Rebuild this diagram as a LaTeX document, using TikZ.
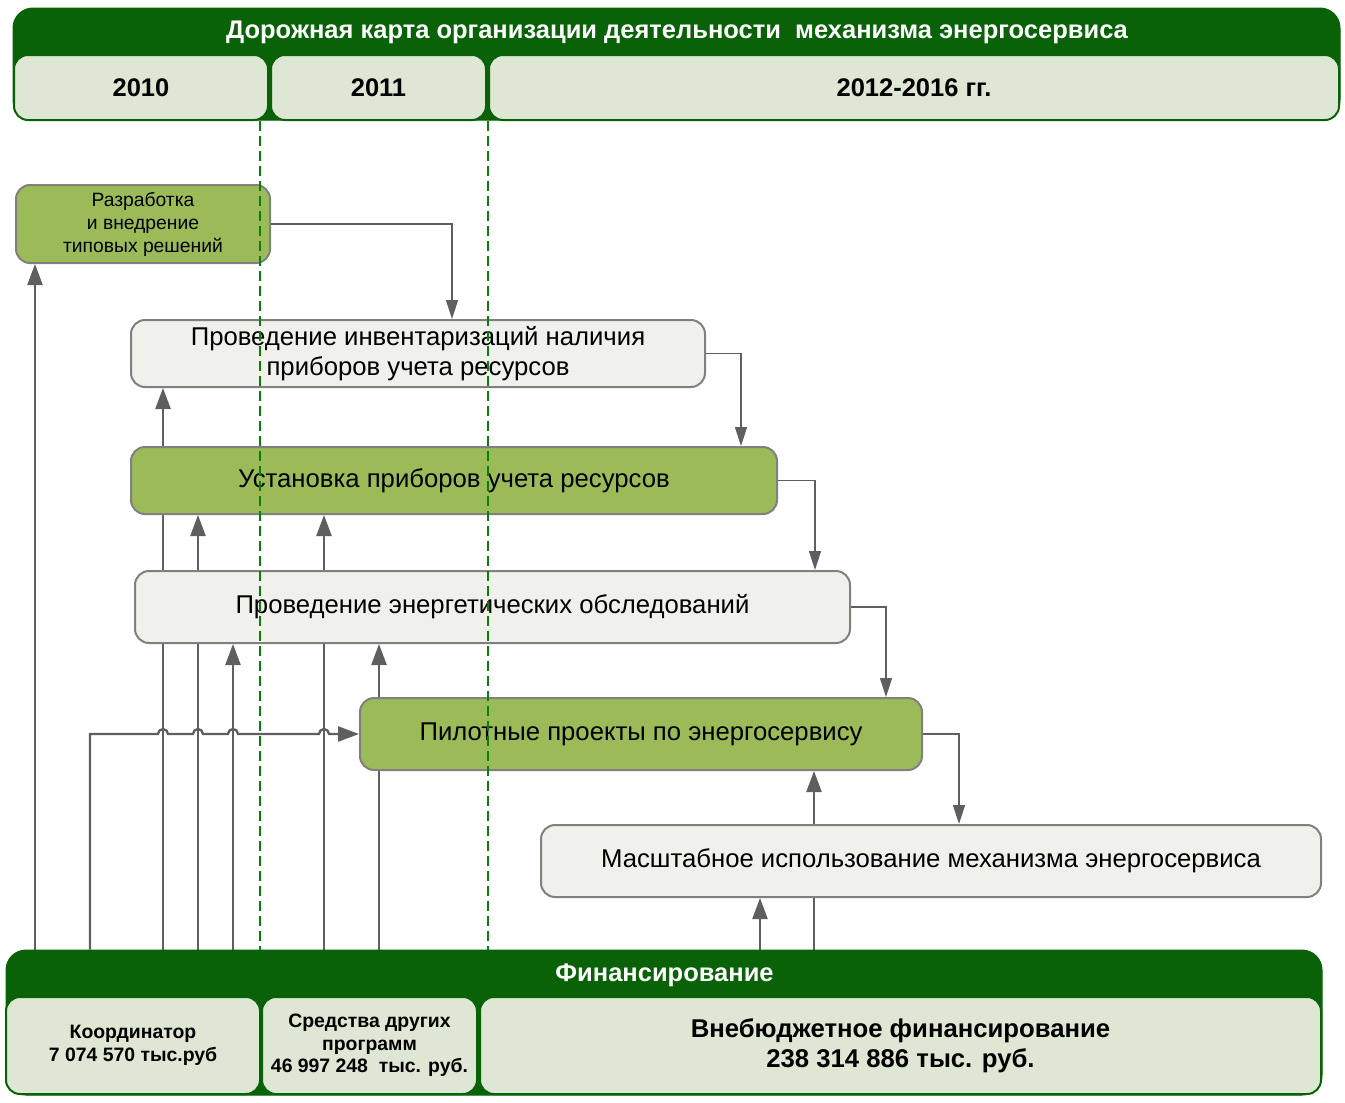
\documentclass[tikz,border=0pt]{standalone}
\usepackage{fontspec}
\setmainfont{Liberation Sans}
\usetikzlibrary{arrows.meta,backgrounds,calc}
\definecolor{dkg}{RGB}{10,98,8}
\definecolor{cellfill}{RGB}{221,231,211}
\definecolor{gfill}{RGB}{155,187,89}
\definecolor{lfill}{RGB}{239,241,234}
\definecolor{bgray}{RGB}{128,128,128}
\definecolor{cgray}{RGB}{95,95,95}
\definecolor{dashg}{RGB}{10,128,10}
\newcommand{\fs}[2]{\fontsize{#1}{#2}\selectfont}
\begin{document}
\begin{tikzpicture}[x=1pt,y=-1pt,
  panel/.style={fill=dkg, draw=dkg, line width=1pt, rounded corners=20pt},
  cell/.style={fill=cellfill, draw=dkg, line width=2pt, rounded corners=14pt, inner sep=0pt, align=center},
  gbox/.style={fill=gfill, draw=bgray, line width=2pt, rounded corners=14pt, inner sep=0pt, align=center},
  lbox/.style={fill=lfill, draw=bgray, line width=2pt, rounded corners=14pt, inner sep=0pt, align=center},
  upconn/.style={draw=cgray, line width=2.3pt, -{Triangle[length=21pt,width=15pt]}},
  rconn/.style={draw=cgray, line width=1.5pt, -{Triangle[length=19pt,width=12pt]}},
  yrdash/.style={draw=dashg, line width=1.8pt, dash pattern=on 10pt off 5pt},
  ttl/.style={text=white, font=\bfseries\fs{25.5}{30}, inner sep=0pt}
]
\useasboundingbox (0,0) rectangle (1345,1103);
\begin{scope}[on background layer]
\fill[white] (0,0) rectangle (1345,1103);
\end{scope}

% header
\node[panel, minimum width=1327pt, minimum height=112pt, inner sep=0pt] (hdr) at (676.5,64) {};
\node[ttl] (title) at (677,32) {Дорожная карта организации деятельности\ \ механизма энергосервиса};
\node[cell, font=\bfseries\fs{25.5}{30}, minimum width=254pt, minimum height=65pt] (y1) at (141,87.5) {2010};
\node[cell, font=\bfseries\fs{25.5}{30}, minimum width=215pt, minimum height=65pt] (y2) at (378.5,87.5) {2011};
\node[cell, font=\bfseries\fs{25.5}{30}, minimum width=850pt, minimum height=65pt] (y3) at (914,87.5) {2012-2016 гг.};

% financing
\node[panel, minimum width=1316pt, minimum height=145pt, inner sep=0pt] (fin) at (664,1022.5) {};
\node[ttl] (fintitle) at (664.5,975) {Финансирование};
\node[cell, font=\bfseries\fs{19.4}{23}, minimum width=254pt, minimum height=97pt] (f1) at (133,1045.5) {Координатор\\7 074 570 тыс.руб};
\node[cell, font=\bfseries\fs{19.4}{22.5}, minimum width=215pt, minimum height=97pt] (f2) at (369.5,1045.5) {Средства других\\программ\\46 997 248\ \ тыс. руб.};
\node[cell, font=\bfseries\fs{25.7}{30}, minimum width=841pt, minimum height=97pt] (f3) at (900.5,1045.5) {Внебюджетное финансирование\\238 314 886 тыс. руб.};

% process boxes
\node[gbox, font=\fs{19.3}{23}, minimum width=254pt, minimum height=78pt] (dev) at (143,224) {Разработка\\и внедрение\\типовых решений};
\node[lbox, font=\fs{25.7}{30}, minimum width=574pt, minimum height=67pt] (inv) at (418,353.5) {Проведение инвентаризаций наличия\\приборов учета ресурсов};
\node[gbox, font=\fs{25.7}{30}, minimum width=646pt, minimum height=67pt] (ust) at (454,480.5) {Установка приборов учета ресурсов};
\node[lbox, font=\fs{25.7}{30}, minimum width=715pt, minimum height=72pt] (eng) at (492.5,607) {Проведение энергетических обследований};
\node[gbox, font=\fs{25.7}{30}, minimum width=562pt, minimum height=72pt] (pil) at (641,734) {Пилотные проекты по энергосервису};
\node[lbox, font=\fs{25.7}{30}, minimum width=780pt, minimum height=72pt] (mas) at (931,861) {Масштабное использование механизма энергосервиса};

% x positions of vertical connectors
\coordinate (a1) at (35,0);
\coordinate (a2) at (90,0);
\coordinate (a3) at (163,0);
\coordinate (a4) at (198,0);
\coordinate (a5) at (233,0);
\coordinate (a6) at (324,0);
\coordinate (a7) at (379,0);
\coordinate (a8) at (760,0);
\coordinate (a9) at (814,0);
\coordinate (r1) at (452,0);
\coordinate (r2) at (741,0);
\coordinate (r3) at (815,0);
\coordinate (r4) at (886,0);
\coordinate (r5) at (959,0);
\coordinate (d1) at (260,0);
\coordinate (d2) at (488,0);

\begin{scope}[on background layer]
\draw[upconn] (a1 |- fin.north) -- (a1 |- dev.south);
\draw[upconn] (a2 |- fin.north) -- (a2 |- pil.west)
  -- ($(a3 |- pil.west)+(-5,0)$) arc[start angle=180,end angle=0,radius=5pt]
  -- ($(a4 |- pil.west)+(-5,0)$) arc[start angle=180,end angle=0,radius=5pt]
  -- ($(a5 |- pil.west)+(-5,0)$) arc[start angle=180,end angle=0,radius=5pt]
  -- ($(a6 |- pil.west)+(-5,0)$) arc[start angle=180,end angle=0,radius=5pt]
  -- (pil.west);
\draw[upconn] (a3 |- fin.north) -- (a3 |- inv.south);
\draw[upconn] (a4 |- fin.north) -- (a4 |- ust.south);
\draw[upconn] (a5 |- fin.north) -- (a5 |- eng.south);
\draw[upconn] (a6 |- fin.north) -- (a6 |- ust.south);
\draw[upconn] (a7 |- fin.north) -- (a7 |- eng.south);
\draw[upconn] (a8 |- fin.north) -- (a8 |- mas.south);
\draw[upconn] (a9 |- fin.north) -- (a9 |- pil.south);
\draw[rconn] (dev.east) -| (r1 |- inv.north);
\draw[rconn] (inv.east) -| (r2 |- ust.north);
\draw[rconn] (ust.east) -| (r3 |- eng.north);
\draw[rconn] (eng.east) -| (r4 |- pil.north);
\draw[rconn] (pil.east) -| (r5 |- mas.north);
\end{scope}

% year boundaries
\draw[yrdash] (d1 |- hdr.south) -- (d1 |- fin.north);
\draw[yrdash] (d2 |- hdr.south) -- (d2 |- fin.north);
\end{tikzpicture}
\end{document}
